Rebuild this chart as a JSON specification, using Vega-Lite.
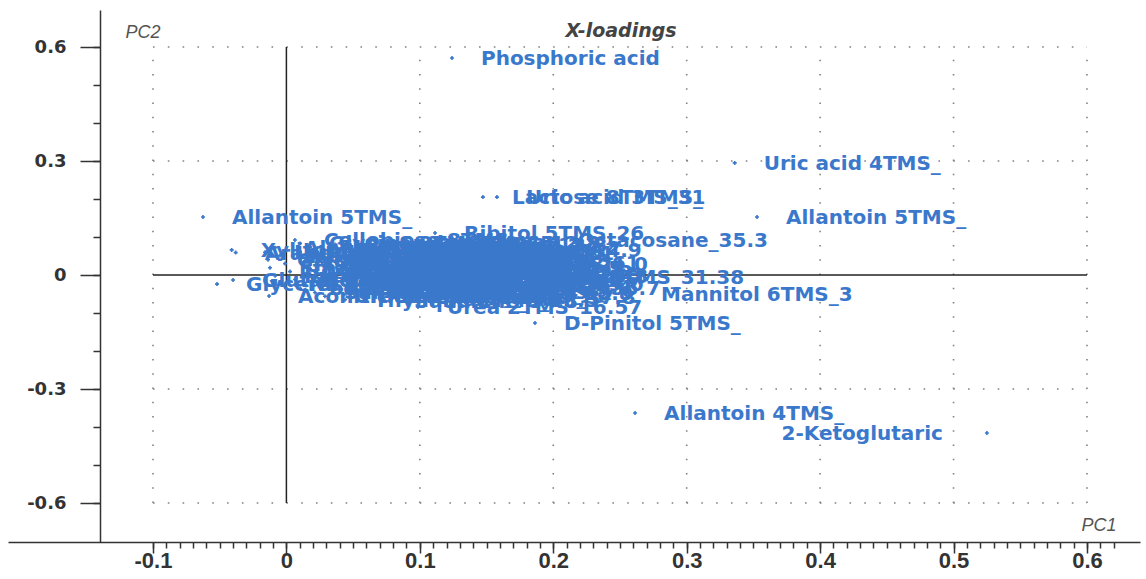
{
  "$schema": "https://vega.github.io/schema/vega-lite/v6.json",
  "width": 1132,
  "height": 532,
  "autosize": {"type": "none"},
  "padding": {"left": 8, "top": 10, "right": 6, "bottom": 37},
  "background": "white",
  "title": {"text": "X-loadings", "font": "DejaVu Sans", "fontStyle": "italic", "fontWeight": "bold", "fontSize": 19, "color": "#444444", "anchor": "middle", "frame": "group", "dx": 47, "offset": -31},
  "config": {"view": {"stroke": null}, "axis": {"grid": false}},
  "datasets": {
    "pts": [
      {"name": "Phosphoric acid", "pc1": 0.1241, "pc2": 0.571},
      {"name": "Uric acid 4TMS_", "pc1": 0.336, "pc2": 0.295},
      {"name": "Allantoin 5TMS_", "pc1": 0.3527, "pc2": 0.1526},
      {"name": "Allantoin 4TMS_", "pc1": 0.2613, "pc2": -0.363},
      {"name": "2-Ketoglutaric", "pc1": 0.525, "pc2": -0.4158},
      {"name": "Allantoin 5TMS_", "pc1": -0.0625, "pc2": 0.1526},
      {"name": "Xylitol 5TMS_", "pc1": -0.041, "pc2": 0.066},
      {"name": "Arabitol 5TMS_", "pc1": -0.038, "pc2": 0.059},
      {"name": "Glycerol 3TMS_", "pc1": -0.052, "pc2": -0.024},
      {"name": "Glutaric acid 2TMS_", "pc1": -0.04, "pc2": -0.013},
      {"name": "Cellobiose 8TMS_", "pc1": 0.0064, "pc2": 0.092},
      {"name": "Ribitol 5TMS_26", "pc1": 0.1114, "pc2": 0.1105},
      {"name": "Octacosane_35.3", "pc1": 0.1967, "pc2": 0.092},
      {"name": "Dodecane_14.9", "pc1": 0.1166, "pc2": 0.066},
      {"name": "Turanose 8TMS_32.61", "pc1": 0.0597, "pc2": 0.0316},
      {"name": "Fructose 5TMS_31.38", "pc1": 0.142, "pc2": -0.005},
      {"name": "Adenosine-MP_35.7", "pc1": 0.0934, "pc2": -0.034},
      {"name": "Mannitol 6TMS_3", "pc1": 0.259, "pc2": -0.05},
      {"name": "Urea 2TMS_16.57", "pc1": 0.0986, "pc2": -0.0842},
      {"name": "D-Pinitol 5TMS_", "pc1": 0.1863, "pc2": -0.1263},
      {"name": "Aconitic acid 3TMS_", "pc1": -0.013, "pc2": -0.0553},
      {"name": "Lactose 8TMS_31", "pc1": 0.1473, "pc2": 0.205},
      {"name": "Uric acid 3TMS_", "pc1": 0.1578, "pc2": 0.205},
      {"name": "Glycine 3TMS_10.45", "pc1": 0.0102, "pc2": 0.083},
      {"name": "Sucrose 8TMS_30.2", "pc1": 0.0364, "pc2": 0.08},
      {"name": "Serine 3TMS_12.8", "pc1": 0.0627, "pc2": 0.084},
      {"name": "Threonine_13.3", "pc1": 0.0889, "pc2": 0.079},
      {"name": "Alanine 2TMS_8.12", "pc1": -0.0085, "pc2": 0.072},
      {"name": "Valine 2TMS_9.87", "pc1": 0.0214, "pc2": 0.069},
      {"name": "Malic acid_14.6", "pc1": 0.0477, "pc2": 0.073},
      {"name": "Proline_11.7", "pc1": 0.0776, "pc2": 0.07},
      {"name": "Erythritol_14.2", "pc1": 0.1039, "pc2": 0.072},
      {"name": "Leucine 2TMS_11.2", "pc1": -0.016, "pc2": 0.06},
      {"name": "Lactic acid 2TMS_6.6", "pc1": 0.0102, "pc2": 0.062},
      {"name": "Citric acid_20.1", "pc1": 0.0402, "pc2": 0.059},
      {"name": "Glucose_21.7", "pc1": 0.0664, "pc2": 0.063},
      {"name": "Galactose_21.1", "pc1": 0.0964, "pc2": 0.058},
      {"name": "Xylose_17.8", "pc1": 0.1151, "pc2": 0.061},
      {"name": "Isoleucine 2TMS_11.6", "pc1": -0.0048, "pc2": 0.051},
      {"name": "Succinic acid_11.0", "pc1": 0.0252, "pc2": 0.049},
      {"name": "Fumaric acid_11.8", "pc1": 0.0514, "pc2": 0.052},
      {"name": "Arabinose_17.5", "pc1": 0.0814, "pc2": 0.048},
      {"name": "Ribose_18.1", "pc1": 0.1076, "pc2": 0.05},
      {"name": "Glycolic acid 2TMS_6.9", "pc1": -0.0138, "pc2": 0.04},
      {"name": "Oxalic acid 2TMS_8.4", "pc1": 0.0139, "pc2": 0.038},
      {"name": "Glyceric acid_12.1", "pc1": 0.0439, "pc2": 0.041},
      {"name": "Rhamnose_18.9", "pc1": 0.0701, "pc2": 0.037},
      {"name": "Sorbitol_22.1", "pc1": 0.1001, "pc2": 0.04},
      {"name": "Fucose_19.3", "pc1": 0.1189, "pc2": 0.038},
      {"name": "Malonic acid 2TMS_9.3", "pc1": -0.001, "pc2": 0.03},
      {"name": "Threonic acid_15.6", "pc1": 0.0289, "pc2": 0.027},
      {"name": "Galactitol_22.4", "pc1": 0.0552, "pc2": 0.031},
      {"name": "Inositol_24.3", "pc1": 0.0851, "pc2": 0.028},
      {"name": "Quinic acid_21.0", "pc1": 0.1114, "pc2": 0.029},
      {"name": "Ethanolamine 3TMS_10.9", "pc1": -0.0123, "pc2": 0.019},
      {"name": "Methionine 2TMS_15.4", "pc1": 0.0177, "pc2": 0.017},
      {"name": "Gluconic acid_23.2", "pc1": 0.0477, "pc2": 0.02},
      {"name": "Shikimic acid_20.3", "pc1": 0.0739, "pc2": 0.016},
      {"name": "Trehalose_32.5", "pc1": 0.1039, "pc2": 0.018},
      {"name": "Aspartic acid 3TMS_15.1", "pc1": 0.0027, "pc2": 0.009},
      {"name": "GABA 3TMS_15.8", "pc1": 0.0327, "pc2": 0.006},
      {"name": "Glutamic acid_16.9", "pc1": 0.0589, "pc2": 0.01},
      {"name": "Caffeic acid_24.1", "pc1": 0.0889, "pc2": 0.007},
      {"name": "Raffinose_37.2", "pc1": 0.1151, "pc2": 0.008},
      {"name": "Pyruvic acid_6.2", "pc1": -0.0085, "pc2": -0.002},
      {"name": "Phenylalanine_17.0", "pc1": 0.0214, "pc2": -0.004},
      {"name": "Glutamine_19.1", "pc1": 0.0514, "pc2": -0.001},
      {"name": "Palmitic acid_24.8", "pc1": 0.0776, "pc2": -0.005},
      {"name": "Ferulic acid_23.8", "pc1": 0.1076, "pc2": -0.002},
      {"name": "Benzoic acid TMS_9.6", "pc1": 0.0064, "pc2": -0.012},
      {"name": "Ornithine 4TMS_19.7", "pc1": 0.0364, "pc2": -0.015},
      {"name": "Stearic acid_26.9", "pc1": 0.0627, "pc2": -0.011},
      {"name": "Linoleic acid_26.5", "pc1": 0.0926, "pc2": -0.014},
      {"name": "Maltose_31.9", "pc1": 0.1189, "pc2": -0.013},
      {"name": "Nicotinic acid TMS_11.9", "pc1": -0.0048, "pc2": -0.023},
      {"name": "Lysine 4TMS_21.3", "pc1": 0.0252, "pc2": -0.025},
      {"name": "Oleic acid_26.6", "pc1": 0.0552, "pc2": -0.022},
      {"name": "Tyrosine_22.0", "pc1": 0.0814, "pc2": -0.026},
      {"name": "Putrescine_19.0", "pc1": 0.1114, "pc2": -0.024},
      {"name": "beta-Alanine_13.9", "pc1": 0.0102, "pc2": -0.035},
      {"name": "Glycerol-3-P_18.7", "pc1": 0.0402, "pc2": -0.033},
      {"name": "Tryptophan_25.6", "pc1": 0.0664, "pc2": -0.036},
      {"name": "Spermidine_26.4", "pc1": 0.0964, "pc2": -0.032},
      {"name": "Salicylic acid_15.2", "pc1": 0.0214, "pc2": -0.046},
      {"name": "Vanillic acid_19.4", "pc1": 0.0514, "pc2": -0.044},
      {"name": "Ascorbic acid_22.8", "pc1": 0.0814, "pc2": -0.047},
      {"name": "Adenine_19.8", "pc1": 0.1076, "pc2": -0.045},
      {"name": "Uracil 2TMS_12.4", "pc1": 0.0289, "pc2": -0.056},
      {"name": "Sitosterol_38.6", "pc1": 0.0589, "pc2": -0.054},
      {"name": "Campesterol_37.8", "pc1": 0.0889, "pc2": -0.057},
      {"name": "Thymine 2TMS_13.5", "pc1": 0.0439, "pc2": -0.065},
      {"name": "Squalene_34.8", "pc1": 0.0739, "pc2": -0.068}
    ],
    "vgrid": [{"g": -0.1}, {"g": 0.1}, {"g": 0.2}, {"g": 0.3}, {"g": 0.4}, {"g": 0.5}, {"g": 0.6}],
    "hgrid": [{"g": -0.6}, {"g": -0.3}, {"g": 0.3}, {"g": 0.6}]
  },
  "resolve": {"axis": {"x": "independent", "y": "independent"}},
  "layer": [
    {
      "data": {"name": "vgrid"},
      "mark": {"type": "rule", "stroke": "#808080", "strokeWidth": 1.6, "strokeDash": [1.6, 12.65]},
      "encoding": {
        "x": {"field": "g", "type": "quantitative", "scale": {"domain": [-0.20865, 0.63974], "nice": false, "zero": false}, "axis": null},
        "y": {"datum": -0.6, "type": "quantitative", "scale": {"domain": [-0.70263, 0.69737], "nice": false, "zero": false}, "axis": null},
        "y2": {"datum": 0.6}
      }
    },
    {
      "data": {"name": "hgrid"},
      "mark": {"type": "rule", "stroke": "#808080", "strokeWidth": 1.6, "strokeDash": [1.6, 13.22]},
      "encoding": {
        "y": {"field": "g", "type": "quantitative",
          "axis": {"orient": "left", "offset": -92, "title": null, "labels": false, "domain": false, "tickCount": 100, "values": [-0.6,-0.5,-0.4,-0.3,-0.2,-0.1,0,0.1,0.2,0.3,0.4,0.5,0.6], "tickSize": 7, "tickColor": "#333333", "tickWidth": 1.5}},
        "x": {"datum": -0.1, "type": "quantitative",
          "axis": {"orient": "bottom", "title": null, "labels": false, "domain": false, "tickCount": 100, "values": [-0.1, 0, 0.1, 0.2, 0.3, 0.4, 0.5, 0.6], "tickSize": 11, "tickColor": "#333333", "tickWidth": 1.5}},
        "x2": {"datum": 0.6}
      }
    },
    {
      "data": {"values": [{}]},
      "mark": {"type": "rule", "stroke": "#222222", "strokeWidth": 1.5},
      "encoding": {
        "x": {"datum": 0, "type": "quantitative", "axis": null},
        "y": {"datum": -0.6, "type": "quantitative", "axis": null},
        "y2": {"datum": 0.6}
      }
    },
    {
      "data": {"values": [{}]},
      "mark": {"type": "rule", "stroke": "#222222", "strokeWidth": 1.5},
      "encoding": {
        "y": {"datum": 0, "type": "quantitative", "axis": null},
        "x": {"datum": -0.1, "type": "quantitative", "axis": null},
        "x2": {"datum": 0.6}
      }
    },
    {
      "data": {"name": "pts"},
      "mark": {"type": "point", "shape": "cross", "filled": true, "size": 16, "color": "#3a78cc", "opacity": 1},
      "encoding": {
        "x": {"field": "pc1", "type": "quantitative",
          "axis": {"orient": "bottom", "title": "PC1", "titleFont": "Liberation Sans", "titleFontStyle": "italic", "titleFontWeight": "normal", "titleFontSize": 18, "titleColor": "#555555", "titleX": 1108, "titleY": -12, "titleAlign": "right", "titleBaseline": "alphabetic", "titleAnchor": null,
            "tickCount": 100,
            "values": [-0.1,-0.09,-0.08,-0.07,-0.06,-0.05,-0.04,-0.03,-0.02,-0.01,0,0.01,0.02,0.03,0.04,0.05,0.06,0.07,0.08,0.09,0.1,0.11,0.12,0.13,0.14,0.15,0.16,0.17,0.18,0.19,0.2,0.21,0.22,0.23,0.24,0.25,0.26,0.27,0.28,0.29,0.3,0.31,0.32,0.33,0.34,0.35,0.36,0.37,0.38,0.39,0.4,0.41,0.42,0.43,0.44,0.45,0.46,0.47,0.48,0.49,0.5,0.51,0.52,0.53,0.54,0.55,0.56,0.57,0.58,0.59,0.6,0.61,0.62],
            "labelExpr": "abs(datum.value * 10 - round(datum.value * 10)) > 0.001 ? '' : (abs(datum.value) < 0.001 ? '0' : (datum.value < 0 ? '-' : '') + format(abs(datum.value), '.1f'))",
            "domainColor": "#333333", "domainWidth": 1.5, "tickColor": "#333333", "tickWidth": 1.5, "tickSize": 6,
            "labelFont": "Liberation Sans", "labelFontWeight": "bold", "labelFontSize": 22, "labelColor": "#333333", "labelPadding": 2, "labelFlush": false, "labelOverlap": false, "labelBound": false}},
        "y": {"field": "pc2", "type": "quantitative",
          "axis": {"orient": "left", "offset": -92, "title": "PC2", "titleFont": "Liberation Sans", "titleFontStyle": "italic", "titleFontWeight": "normal", "titleFontSize": 18, "titleColor": "#555555", "titleAngle": 0, "titleX": 25, "titleY": 27, "titleAlign": "left", "titleBaseline": "alphabetic", "titleAnchor": null,
            "values": [-0.6, -0.3, 0, 0.3, 0.6],
            "labelExpr": "abs(datum.value) < 0.001 ? '0' : (datum.value < 0 ? '-' : '') + format(abs(datum.value), '.1f')",
            "domainColor": "#333333", "domainWidth": 1.5, "tickColor": "#333333", "tickWidth": 1.5, "tickSize": 20,
            "labelFont": "DejaVu Sans", "labelFontWeight": "bold", "labelFontSize": 18, "labelColor": "#333333", "labelPadding": 14, "labelFlush": false, "labelOverlap": false, "labelBound": false}}
      }
    },
    {
      "data": {"name": "pts"},
      "transform": [{"filter": "datum.name != '2-Ketoglutaric'"}],
      "mark": {"type": "text", "align": "left", "baseline": "middle", "dx": 29, "dy": 1, "font": "DejaVu Sans", "fontWeight": "bold", "fontSize": 20, "color": "#3a78cc"},
      "encoding": {
        "x": {"field": "pc1", "type": "quantitative", "axis": null},
        "y": {"field": "pc2", "type": "quantitative", "axis": null},
        "text": {"field": "name"}
      }
    },
    {
      "data": {"name": "pts"},
      "transform": [{"filter": "datum.name == '2-Ketoglutaric'"}],
      "mark": {"type": "text", "align": "right", "baseline": "middle", "dx": -44, "dy": 1, "font": "DejaVu Sans", "fontWeight": "bold", "fontSize": 20, "color": "#3a78cc"},
      "encoding": {
        "x": {"field": "pc1", "type": "quantitative", "axis": null},
        "y": {"field": "pc2", "type": "quantitative", "axis": null},
        "text": {"field": "name"}
      }
    }
  ]
}
